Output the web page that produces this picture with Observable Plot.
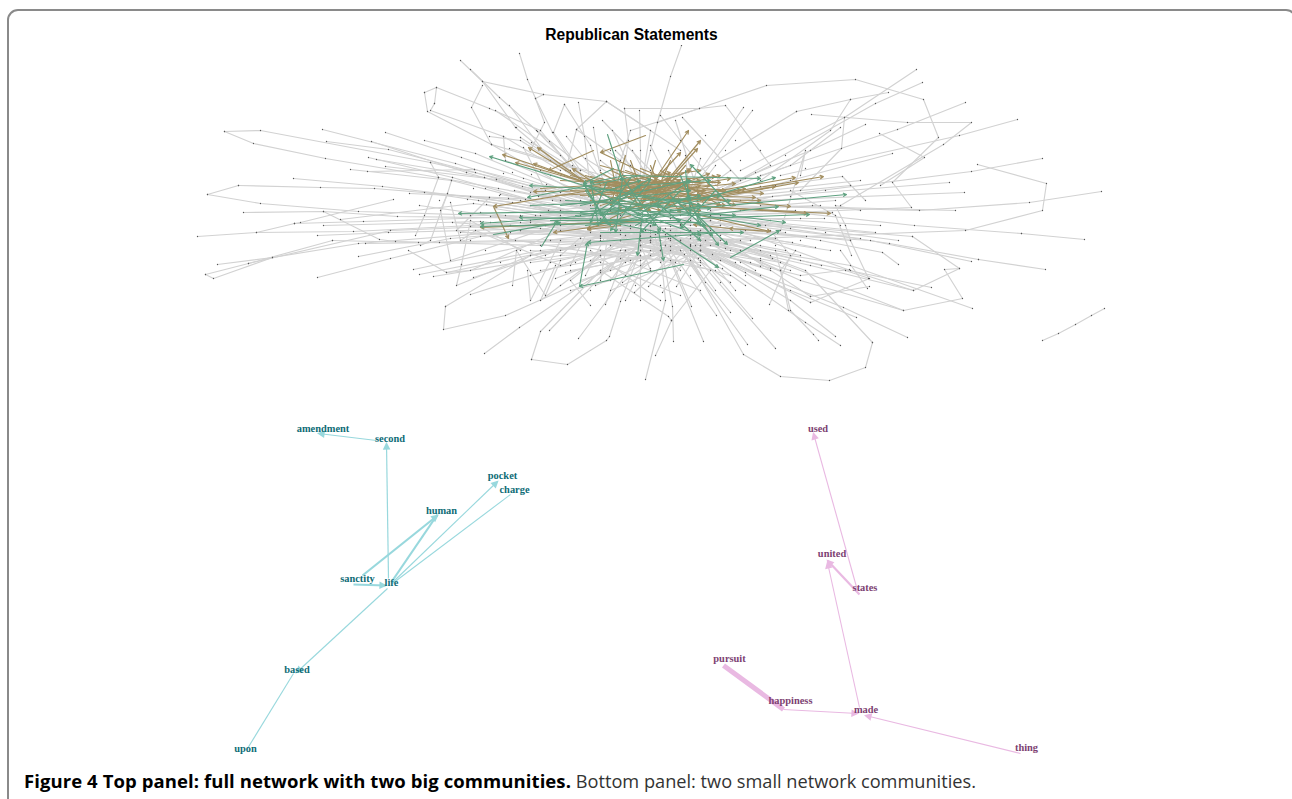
<!DOCTYPE html>
<html><head><meta charset="utf-8">
<script src="https://cdn.jsdelivr.net/npm/d3@7"></script>
<script src="https://cdn.jsdelivr.net/npm/@observablehq/plot@0.6"></script>
<style>
html,body{margin:0;padding:0;background:#fff;overflow:hidden;height:799px}
#card{position:absolute;left:7px;top:9px;width:1290px;height:830px;border:2px solid #8a8a8a;border-radius:11px;box-sizing:border-box;overflow:hidden}
#title{position:absolute;left:0;top:15px;width:1245px;text-align:center;font:bold 15.6px "Liberation Sans",Arial,sans-serif;color:#000;line-height:18px}
#chart{position:absolute;left:0;top:34px}
#caption{position:absolute;left:15px;top:757px;font:18.2px/26px "Open Sans","Noto Sans",sans-serif;color:#333;white-space:nowrap}
#caption b{color:#000;font-weight:700;font-size:18.5px;letter-spacing:.08px}
svg{display:block;background:transparent}
</style></head><body>
<div id="card"><div id="title">Republican Statements</div><div id="chart"></div>
<div id="caption"><b>Figure 4 Top panel: full network with two big communities.</b> Bottom panel: two small network communities.</div></div>
<script>
// Gray network paths: flat x,y lists
const leftPaths = [
[224,131,260,130,430,162,560,192,650,215],[224,131,253,143,325,158,438,177,590,205],
[322,129,455,163,610,210],[326,141,388,149,475,172,620,215],[371,141,466,172,600,212],[385,132,461,157,590,200],
[424,140,475,153,600,205],[368,157,452,177,610,222],[376,159,484,177,640,220],[385,166,496,179,630,225],
[350,169,451,180,600,218],[367,171,474,169,620,205],[430,162,438,177,424,215,415,235],
[293,178,382,186,512,202,650,232],[238,185,320,187,374,188,520,200,640,238],[207,194,238,185],[207,194,260,203,358,211,520,216,660,240],
[243,212,323,211,397,216,560,218,670,238],[323,211,379,239,395,241,540,245,650,240],[340,219,473,203,640,225],
[393,199,300,222,294,223],[409,193,560,200,650,225],[424,192,580,215],[419,205,560,225,640,245],
[294,223,363,221,560,215],[323,225,480,221,650,240],[197,236,256,232,353,231,530,222,660,250],[256,232,294,223],
[317,235,388,232,540,228,665,245],[332,240,418,242,600,238],[365,243,439,242,620,240],[447,193,430,240,420,245],
[217,264,272,257,358,243,520,230,650,232],[248,263,332,240],[205,274,213,278,272,257],[205,274,248,263,390,230,590,222],
[358,256,450,238,640,222],[317,277,390,258,480,236,620,225],[408,250,446,272,470,270,560,230],
[413,269,550,240,640,245],[419,274,540,250,650,240],[433,276,560,255,660,250],[446,272,600,240],
[461,264,456,285,530,255,620,240],[473,277,590,240],[445,306,530,255,640,235],[445,306,443,329,505,315,640,255],
[470,294,640,240],[484,353,519,327,640,245],[531,359,567,364,606,340,609,336,620,301,640,250],[531,359,540,331,600,270,650,240],
[549,330,625,250],[578,338,640,255],[605,304,625,250],[645,379,665,300,660,250],
[450,202,460,240,475,230,560,265,600,250],[451,180,447,193,440,210,450,260,600,210],[461,264,470,220,520,250],
[489,197,456,230,640,260],[512,285,516,250,545,295,560,260],[527,270,530,300,560,240],
[570,290,610,280,640,240],[555,265,540,300,600,255],[590,305,570,280,620,240]];
const topPaths = [
[460,60,482,81,515,127,590,190],[482,81,543,94,606,101,680,150],[519,53,527,79,535,98,552,132,590,190],
[482,85,471,107,491,144,580,170],[470,69,499,97,536,130,600,180],[509,105,550,160,600,195],[495,110,560,155,600,200],
[424,92,436,87,489,108,540,130,590,190],[424,92,427,111,491,144,590,200],[434,103,430,110,503,136,560,170],[436,87,434,103],
[543,94,535,98,544,122,530,150],[564,104,553,132,580,170],[578,102,584,136,590,190],[564,104,590,145,610,200],
[606,101,576,129,565,170],[606,101,650,130,640,190],[624,108,628,140,620,190],[639,110,640,150,640,195],[624,108,699,108,630,130,610,190],
[602,120,650,170],[612,130,640,190],[593,127,600,170],[566,136,610,190],[537,131,600,195],[503,136,505,160,590,195],
[489,136,520,140,600,190],[509,148,620,180],[523,147,545,190],[531,142,600,185],[549,141,590,190],[520,137,570,170],
[576,129,620,160,610,200],[681,45,670,76,657,122,640,190],[657,122,766,85,855,79,923,99,938,137,892,182,911,207,720,215],
[699,108,725,105,770,165,700,200],[743,107,700,170],[752,110,690,190],[660,115,720,190],[675,120,700,200],[682,117,740,180]];
const rightPaths = [
[916,69,844,117,740,170],[922,82,875,103,720,190],[888,92,850,99,830,130,760,180],[796,111,700,170],[850,99,796,111],
[811,114,907,122,971,122,943,144,840,205],[965,102,897,129,760,175],[1017,119,959,135,780,175],[879,133,924,157,880,185],
[865,124,810,150,700,195],[844,117,841,148,800,190],[840,127,790,165,720,190],[892,153,790,180,700,205],
[1042,158,971,171,740,200],[977,164,1046,183,1042,210,965,230,700,240],[949,182,720,200],[964,192,760,200],
[1101,191,1029,202,919,210,720,205],[955,210,760,205],[1021,233,914,225,730,205],[1084,239,1021,233],[912,236,720,220],
[912,236,959,268,944,269,962,298,903,310,710,235],[898,240,710,215],[978,259,889,243,700,215],[971,261,870,240,710,230],
[1045,269,978,259],[959,268,913,290,850,270,710,220],[898,264,882,252,820,240,700,220],[931,287,800,260,690,235],
[913,290,810,265,700,240],[972,308,850,265,700,240],[903,310,800,280,700,235],[868,278,850,240,845,225,835,205,860,210],
[867,288,840,250],[849,269,800,275,700,250],[851,255,835,215,790,190],[821,265,760,250,690,220],[907,337,843,307,700,250],
[872,342,865,367,829,380,780,376,743,354,690,260],[872,342,805,270,710,235],[856,317,790,290,700,250],[840,345,805,322,700,250],
[835,336,790,300,700,245],[818,340,813,334,790,310,775,250],[788,310,780,270,795,250],[775,348,690,250],[747,344,680,250],
[752,318,690,245],[730,312,680,250],[716,315,670,250],[703,341,670,260],[691,306,665,245],[673,341,672,306,660,245],
[671,320,668,316,600,270],[671,320,710,270],[655,355,671,320],[769,304,790,255,770,230],[810,302,700,245],[810,296,869,286],
[810,296,740,250],[810,302,869,278,845,270],[800,175,805,150,780,230],[865,200,842,176,700,195],[860,180,720,195],
[850,185,700,200],[835,200,710,210],[880,225,710,215],[875,232,700,215],[860,238,700,220],[850,240,700,225],
[815,247,700,225],[830,250,700,230],[800,255,700,235],[790,270,700,240],[755,270,680,225],[780,270,690,230],[770,255,690,230]];
const stray = [[1042,340,1058,333,1075,324,1091,315,1104,308]];
// extra short links around the dense core
const corePaths = [
[540,170,690,225],[530,205,700,245],[545,240,710,220],[560,250,690,205],[590,260,690,190],[610,270,650,190],
[625,275,670,190],[650,270,620,190],[680,270,600,195],[700,265,580,200],[720,260,560,210],[740,250,540,215],
[520,230,720,240],[515,240,730,250],[530,250,700,262],[550,262,720,225],[570,270,710,245],[600,255,750,240],
[610,245,735,262],[625,235,745,230],[640,225,760,245],[630,260,770,220],[620,250,760,225],[650,255,740,210],
[660,262,650,215],[640,265,690,215],[600,235,720,235],[590,228,710,228],[580,238,700,255],[575,245,715,270],
[560,220,700,210],[545,225,720,218],[530,220,690,222],[520,215,680,232],[510,225,700,230],[505,215,720,225],
[640,240,760,260],[650,232,770,270],[660,240,780,262],[670,235,760,275],[680,240,745,285],[690,235,735,290],
[640,250,730,275],[620,258,700,290],[600,262,680,295],[590,250,660,300],[640,255,640,300],[650,250,625,300],
[610,220,600,280],[620,205,585,275],[595,215,570,265],[610,210,560,255],
[470,196,640,222],[478,200,650,226],[486,204,645,230],[494,208,655,234],[500,194,640,218],[508,198,660,228],
[514,190,630,214],[522,186,640,210],[530,192,650,216],[538,196,660,222],[546,184,650,212],[552,200,670,230],
[480,212,640,232],[490,216,650,236],[500,220,660,240],[470,226,650,242],[460,232,640,236],[452,222,620,234],
[530,262,680,242],[540,270,670,246],[555,278,665,236],[565,272,690,246],[580,280,700,240],[595,285,690,244],
[610,290,700,250],[622,282,680,240],[634,292,690,238],[648,286,700,234],[662,292,695,245],[676,286,705,240],
[705,282,675,235],[715,290,680,240],[730,282,668,238],[745,272,665,234],[760,266,660,232],[772,258,650,230],
[785,250,665,228],[792,242,655,224],[806,236,670,226],[815,228,660,220],[824,218,670,218],[832,212,680,215],
[820,205,670,210],[805,198,690,206],[795,210,660,214],[785,232,680,224],[775,238,670,240],[765,225,650,236],
[750,262,640,232],[740,240,630,228],[725,248,620,230],[712,254,610,232],[698,258,600,236],[684,254,590,232],
[560,175,640,200],[572,165,650,205],[585,158,660,205],[600,160,665,210],[615,150,670,205],[632,150,660,200],
[650,145,680,205],[668,150,690,200],[685,155,690,205],[700,158,685,205],[715,165,680,210],[730,170,675,210],
[745,178,670,215],[760,186,670,218],[772,196,665,222],[548,210,670,200],[535,215,680,205],[520,222,690,212]];
const innerNodes = [[516,127],[520,137],[491,144],[438,177],[452,177],[466,172],[474,169],[484,177],[496,179],[503,173],[512,172],[523,178],[531,174],[473,188],[485,188],[498,188],[439,200],[467,199],[489,197],[499,195],[525,199],[470,215],[490,222],[510,232],[545,255],[575,262],[600,272],[625,262],[650,268],[675,262],[700,260],[722,268],[740,262],[760,258],[775,245],[790,228],[800,218],[812,205],[790,196],[775,185],[755,172],[740,160],[725,150],[705,135],[680,140],[650,150],[630,165],[610,150],[570,160],[550,175],[735,140],[760,150],[785,155],[805,168],[825,190],[840,225],[825,232],[800,240],[770,268],[745,275],[720,282],[690,275],[660,285],[635,285],[590,290],[560,285],[530,275],[500,262],[485,250],[470,240]];
// Highlighted big communities: from x,y to x,y
const tanEdges = [
[585,182,528,147],[585,182,537,147],[585,182,502,154],[585,182,515,162],[585,182,533,163],[590,180,572,168],
[645,135,600,152],[600,152,670,185],[593,150,548,170],[660,190,533,191],[650,180,493,206],[493,206,508,238],
[650,220,480,227],[625,222,553,232],[630,215,587,228],[620,225,587,229],[640,200,688,130],[650,200,700,140],[655,195,697,148],[645,190,680,152],
[665,190,709,173],[680,200,823,176],[690,195,795,177],[700,200,798,182],[670,195,790,206],[680,205,830,213],[690,205,807,213],
[700,215,770,231],[770,231,729,228],[729,228,693,224],[700,190,763,193],[640,178,720,195],[590,183,700,195],[585,180,710,185],
[590,190,690,200],[600,195,700,180],[585,185,725,205],[600,178,700,205],[610,170,680,200],[620,180,700,170],[650,165,660,190],
[630,160,645,200],[580,195,705,190],[585,175,670,205],[600,165,690,190],[615,185,740,190],[610,192,755,197],[590,200,700,210],
[600,205,680,180],[620,170,640,210],[640,200,700,185],[555,195,650,190],[570,190,680,185],
[590,182,720,182],[595,186,715,176],[590,176,705,200],[600,172,660,205],[610,178,725,190],[615,195,735,183],[625,170,710,200],
[630,175,700,215],[635,205,690,168],[640,168,735,205],[650,172,680,212],[655,160,640,210],[660,170,720,205],[665,205,745,188],
[585,190,660,210],[588,196,670,178],[592,205,690,170],[598,180,650,210],[605,185,670,172],[612,200,720,175],[620,188,690,210],
[628,198,760,200],[636,184,700,196],[644,192,730,178],[652,205,775,186],[570,175,640,190],[560,180,660,185],[540,188,640,182],
[610,160,620,210],[625,155,610,205],[670,160,650,205],[685,165,655,200],[600,215,700,190],[610,218,690,178]];
const greenEdges = [
[600,190,489,156],[620,190,529,185],[640,175,527,197],[640,210,458,213],[660,220,519,217],[620,213,480,223],
[640,222,480,226],[493,234,560,222],[541,246,557,220],[683,264,579,286],[579,286,587,242],[720,232,587,242],
[607,134,622,180],[622,178,615,232],[642,213,637,255],[583,183,602,215],[613,168,583,183],[620,176,590,182],
[730,205,690,164],[680,205,775,177],[650,212,846,194],[700,215,778,206],[700,218,809,214],[690,210,785,222],[730,257,779,230],
[660,232,743,232],[662,230,718,267],[658,230,663,260],[695,213,727,244],[695,213,718,245],[600,232,700,232],
[583,183,640,215],[583,185,700,205],[600,215,700,195],[610,222,730,200],[580,205,690,180],[590,195,640,180],[620,175,660,230],
[680,175,700,225],[650,180,610,230],[560,205,690,190],[583,183,606,222],[590,180,598,225],[600,215,640,185],[575,215,660,205],
[640,213,690,180],[585,225,690,213],[620,222,700,222],[600,220,660,232],[685,170,690,212],[640,185,710,180],[622,175,760,178],
[590,215,650,178],[610,205,655,225],[630,195,700,205],
[540,212,700,215],[530,205,690,198],[550,220,680,220],[585,190,610,225],[606,182,590,222],
[630,178,600,222],[565,200,710,208],[580,212,720,195],[590,208,735,215],[600,200,705,225],
[625,208,700,235],[635,225,690,195],[660,205,700,240],[670,195,712,235],[680,190,640,232],
[715,190,680,228],[620,200,760,225]];
// Small communities
const blueEdges = [[376,440,318,433,1.2],[388,578,386,443,1.2],[353,584,385,585,2.2],[362,575,437,515,2.2],[392,580,437,514,2.2],[392,582,497,481,1.1],[510,494,392,583,1.1],[387,588,296,672,1.1],[293,673,247,748,1.1]];
const pinkEdges = [[857,590,813,433,1.1],[859,594,827,560,2.2],[859,707,827,562,1.1],[723,665,783,709,5],[783,709,857,713,1.2],[1020,753,865,715,1.2]];
const blueHeads = [0,1,2,3,5,7];
const pinkHeads = [0,1,2,4,5];
const blueLabels = ["amendment","second","pocket","charge","human","sanctity","life","based","upon"];
const blueX = [322.5,389.5,502,514,441,357,391,296.5,245];
const blueY = [428,438,475,489,510,578,582,669,748];
const pinkLabels = ["used","united","states","pursuit","happiness","made","thing"];
const pinkX = [817.5,831.5,864.5,729,790,865.5,1026];
const pinkY = [428,553,587.5,658,700.5,709,747];

const allPaths = [...leftPaths,...topPaths,...rightPaths,...stray,...corePaths];
const vertices = allPaths.flatMap((p,id)=>d3.range(0,p.length,2).map(i=>({id,x:p[i],y:p[i+1]})));
const edges = a => a.map(e=>({x1:e[0],y1:e[1],x2:e[2],y2:e[3],w:e[4]??1}));
const labels = (t,xs,ys) => t.map((text,i)=>({text,x:xs[i],y:ys[i]}));
const angle = d => Math.atan2(d.x2-d.x1,d.y1-d.y2)*180/Math.PI;
const tip = {draw(c,s){const r=Math.sqrt(s/Math.PI);c.moveTo(0,-r*.4);c.lineTo(r,r*1.6);c.lineTo(-r,r*1.6);c.closePath();}};
const blue = edges(blueEdges), pink = edges(pinkEdges);
const BLUE="#98d8dd", PINK="#e9b9e2";

const chart = Plot.plot({
  width:1286,height:715,margin:0,
  x:{domain:[9,1295],range:[0,1286],axis:null},
  y:{domain:[45,760],range:[0,715],axis:null},
  marks:[
    Plot.line(vertices,{x:"x",y:"y",z:"id",stroke:"#d2d2d2",strokeWidth:1.15,curve:"linear"}),
    Plot.dot(vertices,{x:"x",y:"y",r:0.65,fill:"#555"}),
    Plot.dot(innerNodes,{x:d=>d[0],y:d=>d[1],r:0.65,fill:"#555"}),
    Plot.arrow(edges(tanEdges),{x1:"x1",y1:"y1",x2:"x2",y2:"y2",stroke:"#a28e60",strokeWidth:1.2,headLength:4.5,headAngle:55}),
    Plot.arrow(edges(greenEdges),{x1:"x1",y1:"y1",x2:"x2",y2:"y2",stroke:"#5fa180",strokeWidth:1.15,headLength:4.5,headAngle:55}),
    Plot.link(blue,{x1:"x1",y1:"y1",x2:"x2",y2:"y2",stroke:BLUE,strokeWidth:"w"}),
    Plot.dot(blueHeads.map(i=>blue[i]),{x:"x2",y:"y2",r:3.8,symbol:tip,rotate:angle,fill:BLUE,stroke:"none"}),
    Plot.link(pink,{x1:"x1",y1:"y1",x2:"x2",y2:"y2",stroke:PINK,strokeWidth:"w"}),
    Plot.dot(pinkHeads.map(i=>pink[i]),{x:"x2",y:"y2",r:3.8,symbol:tip,rotate:angle,fill:PINK,stroke:"none"}),
    Plot.text(labels(blueLabels,blueX,blueY),{x:"x",y:"y",text:"text",fill:"#0e6c76",fontFamily:"Liberation Serif",fontWeight:"bold",fontSize:10.4}),
    Plot.text(labels(pinkLabels,pinkX,pinkY),{x:"x",y:"y",text:"text",fill:"#7d3f72",fontFamily:"Liberation Serif",fontWeight:"bold",fontSize:10.4})
  ]
});
document.getElementById("chart").appendChild(chart);
</script></body></html>
